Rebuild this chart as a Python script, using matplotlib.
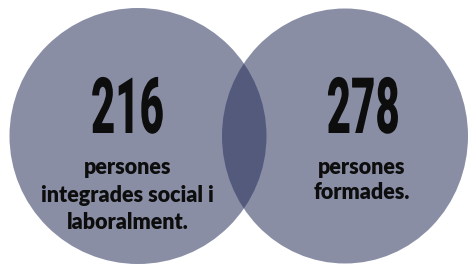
import matplotlib
matplotlib.use("Agg")
import matplotlib.pyplot as plt
from matplotlib import patheffects
from matplotlib.patches import Ellipse
from matplotlib.transforms import Affine2D

# values and captions of the two circles
values = [216, 278]
captions = ["persones\nintegrades social i\nlaboralment.", "persones\nformades."]

# layout in pixels (origin top-left)
centers = [(138, 136), (345, 136)]
sizes = [(257, 256), (246, 255)]
num_x = [127.5, 363.5]
cap_x = [127.5, 362]
num_base = 133
cap_base = 174
cap_gap = [27.5, 25]

FILL, ALPHA = "#262e5a", 0.54


class Squeeze(patheffects.AbstractPathEffect):
    # narrows the glyphs around their own centre, the text stays text
    def __init__(self, sx):
        super().__init__()
        self.sx = sx

    def draw_path(self, renderer, gc, tpath, affine, rgbFace=None):
        bb = tpath.get_extents(affine)
        cx = (bb.x0 + bb.x1) / 2
        sq = Affine2D().translate(-cx, 0).scale(self.sx, 1).translate(cx, 0)
        renderer.draw_path(gc, tpath, affine + sq, rgbFace)


fig = plt.figure(figsize=(4.7, 2.65), dpi=100)
ax = fig.add_axes([0, 0, 1, 1])
ax.set_xlim(0, 470); ax.set_ylim(265, 0); ax.axis("off")

for (cx, cy), (w, h) in zip(centers, sizes):
    ax.add_patch(Ellipse((cx, cy), w, h, facecolor=FILL, alpha=ALPHA, lw=0))

for i, (v, cap) in enumerate(zip(values, captions)):
    ax.text(num_x[i], num_base, str(v), ha="center", va="baseline", fontsize=56,
            family="Roboto", weight="black", color="#0d0d0d",
            path_effects=[Squeeze(0.54)])
    for j, line in enumerate(cap.split("\n")):
        ax.text(cap_x[i], cap_base + j * cap_gap[i], line, ha="center", va="baseline",
                fontsize=15.5, family="Lato", weight="heavy", color="#0d0d0d")

fig.savefig("out.png", dpi=100)
